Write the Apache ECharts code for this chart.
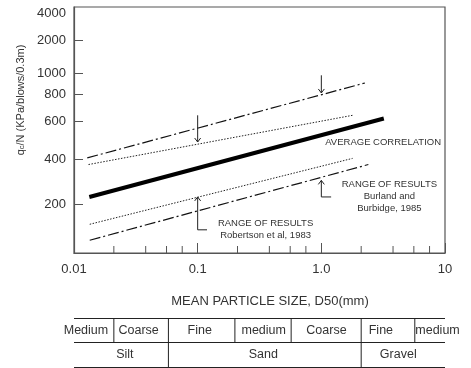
<!DOCTYPE html>
<html>
<head>
<meta charset="utf-8">
<script src="https://cdn.jsdelivr.net/npm/echarts@6/dist/echarts.min.js"></script>
<style>
    html, body { margin: 0; padding: 0; background: #fff; }
    #chart { width: 471px; height: 368px; }
</style>
</head>
<body>
<div id="chart"></div>
<script>
// 数据
const xTickLabels = ['0.01', '0.1', '1.0', '10'];
const xMinorTicks = [0.021, 0.038, 0.056, 0.075, 0.21, 0.38, 0.56, 0.75, 2.1, 3.8, 5.6, 7.5];

// y 轴刻度 (原图的刻度间距不均匀, yTickLevel 是每个刻度在轴上的位置)
const yTickKpa = [200, 400, 600, 800, 1000, 2000, 4000];
const yTickLevel = [48.7, 93.7, 131.7, 158.4, 179.4, 212.7, 240];
const yNoTick = [4000];

// 五条直线: 起点/终点 (D50 mm, qc/N kPa)
const lineNames = ['Burland upper', 'Robertson upper', 'Average correlation', 'Robertson lower', 'Burland lower'];
const lineX0 = [0.0128, 0.0131, 0.0133, 0.0134, 0.0134];
const lineX1 = [2.25, 1.79, 3.2, 1.79, 2.4];
const lineY0 = [406, 369, 224, 147, 115];
const lineY1 = [905, 640, 618, 404, 369];

// 箭头
const arrowX = [1.0, 0.1, 0.1, 1.0];
const arrowTail = [982, 640, 135, 224];
const arrowHead = [814, 481, 224, 289];
const arrowLegX = [1.0, 0.1, 0.119, 1.2];

// 注释文字
const noteText = ['AVERAGE CORRELATION', 'RANGE OF RESULTS\nBurland and\nBurbidge, 1985', 'RANGE OF RESULTS\nRobertson et al, 1983'];
const noteX = [3.16, 3.55, 0.354];
const noteY = [478, 225, 136.5];

// 粒径分类表
const subNames = ['Medium', 'Coarse', 'Fine', 'medium', 'Coarse', 'Fine', 'medium'];
const subCenters = [0.0125, 0.0333, 0.104, 0.342, 1.1, 3.03, 8.7];
const mainNames = ['Silt', 'Sand', 'Gravel'];
const mainCenters = [0.0258, 0.339, 4.19];
const subBounds = [0.021, 0.2, 0.57, 5.7];
const mainBounds = [0.058, 2.1];

const FONT = '"Liberation Sans", Arial, sans-serif';
const TEXT = '#333';
const FRAME = '#555';

// kPa -> 轴上位置 (按刻度分段对数插值)
function toLevel(kpa) {
    let i = 0;
    while (i < yTickKpa.length - 2 && kpa > yTickKpa[i + 1]) i++;
    const f = Math.log(kpa / yTickKpa[i]) / Math.log(yTickKpa[i + 1] / yTickKpa[i]);
    return yTickLevel[i] + f * (yTickLevel[i + 1] - yTickLevel[i]);
}

function yLabel(level) {
    for (let i = 0; i < yTickLevel.length; i++) {
        if (Math.abs(yTickLevel[i] - level) < 0.01) return String(yTickKpa[i]);
    }
    return '';
}

const lineStyles = [
    { color: '#111', width: 1.2, type: [11, 3, 2, 3] },
    { color: '#222', width: 1, type: [1.5, 1.5] },
    { color: '#000', width: 4, type: 'solid' },
    { color: '#222', width: 1, type: [1.5, 1.5] },
    { color: '#111', width: 1.2, type: [11, 3, 2, 3] }
];

const lineSeries = lineNames.map((name, i) => ({
    name: name,
    type: 'line',
    xAxisIndex: 0,
    yAxisIndex: 0,
    showSymbol: false,
    silent: true,
    lineStyle: lineStyles[i],
    data: [[lineX0[i], toLevel(lineY0[i])], [lineX1[i], toLevel(lineY1[i])]]
}));

const chart = echarts.init(document.getElementById('chart'));

const option = {
    animation: false,
    grid: [
        { left: 74, top: 7, width: 371, height: 246, show: true, borderColor: FRAME, borderWidth: 1.2 },
        { left: 74, top: 318, width: 371, height: 49 }
    ],
    xAxis: [
        {
            type: 'log',
            logBase: 10,
            min: 0.01,
            max: 10,
            gridIndex: 0,
            name: 'MEAN PARTICLE SIZE, D50(mm)',
            nameLocation: 'middle',
            nameGap: 42,
            nameTextStyle: { fontFamily: FONT, fontSize: 13, color: TEXT, padding: [0, 0, 0, 21] },
            axisLine: { lineStyle: { color: FRAME, width: 1.2 } },
            axisTick: { inside: true, length: 10, lineStyle: { color: FRAME } },
            axisLabel: {
                margin: 10,
                fontFamily: FONT,
                fontSize: 13,
                color: TEXT,
                showMinLabel: true,
                showMaxLabel: true,
                formatter: v => xTickLabels[Math.round(Math.log10(v)) + 2]
            },
            splitLine: { show: false },
            minorTick: { show: false }
        },
        {
            type: 'log',
            logBase: 10,
            min: 0.01,
            max: 10,
            gridIndex: 1,
            show: false
        }
    ],
    yAxis: [
        {
            type: 'value',
            min: 0,
            max: 246,
            gridIndex: 0,
            name: '{q|q}{sub|c}{q|/N (KPa/blows/0.3m)}',
            nameLocation: 'middle',
            nameRotate: 90,
            nameGap: 47,
            nameTextStyle: {
                padding: [0, 0, 0, 60],
                rich: {
                    q: { fontFamily: FONT, fontSize: 11, color: TEXT },
                    sub: { fontFamily: FONT, fontSize: 7.5, color: TEXT, verticalAlign: 'bottom' }
                }
            },
            axisLine: { lineStyle: { color: FRAME, width: 1.2 } },
            axisTick: {
                inside: true,
                length: 9,
                lineStyle: { color: FRAME },
                customValues: yTickKpa.filter(v => yNoTick.indexOf(v) < 0).map(toLevel)
            },
            axisLabel: {
                margin: 8,
                fontFamily: FONT,
                fontSize: 13,
                color: TEXT,
                customValues: yTickKpa.map(toLevel),
                formatter: v => yLabel(v)
            },
            splitLine: { show: false }
        },
        {
            type: 'value',
            min: 0,
            max: 2,
            interval: 1,
            gridIndex: 1,
            axisLine: { show: false },
            axisTick: { show: false },
            axisLabel: { show: false },
            splitLine: { show: true, lineStyle: { color: '#222', width: 1 } }
        }
    ],
    series: lineSeries.concat([
        // x 轴次刻度
        {
            type: 'custom',
            xAxisIndex: 0,
            yAxisIndex: 0,
            silent: true,
            data: xMinorTicks.map(v => [v, 0]),
            renderItem: function (params, api) {
                const p = api.coord([api.value(0), 0]);
                return {
                    type: 'line',
                    shape: { x1: p[0], y1: p[1], x2: p[0], y2: p[1] - 7 },
                    style: { stroke: FRAME, lineWidth: 1 }
                };
            }
        },
        // 箭头
        {
            type: 'custom',
            xAxisIndex: 0,
            yAxisIndex: 0,
            silent: true,
            data: arrowX.map((x, i) => [x, toLevel(arrowTail[i]), toLevel(arrowHead[i]), arrowLegX[i]]),
            renderItem: function (params, api) {
                const tail = api.coord([api.value(0), api.value(1)]);
                const head = api.coord([api.value(0), api.value(2)]);
                const leg = api.coord([api.value(3), api.value(1)]);
                const dir = head[1] > tail[1] ? 1 : -1;
                const stroke = { stroke: '#222', lineWidth: 1, fill: null };
                const children = [
                    { type: 'polyline', shape: { points: [[leg[0], leg[1]], [tail[0], tail[1]], [head[0], head[1]]] }, style: stroke },
                    { type: 'polyline', shape: { points: [[head[0] - 3, head[1] - dir * 4], [head[0], head[1]], [head[0] + 3, head[1] - dir * 4]] }, style: stroke }
                ];
                return { type: 'group', children: children };
            }
        },
        // 注释
        {
            type: 'custom',
            xAxisIndex: 0,
            yAxisIndex: 0,
            silent: true,
            data: noteX.map((x, i) => [x, toLevel(noteY[i])]),
            renderItem: function (params, api) {
                const p = api.coord([api.value(0), api.value(1)]);
                return {
                    type: 'text',
                    style: {
                        text: noteText[params.dataIndex],
                        x: p[0],
                        y: p[1],
                        align: 'center',
                        verticalAlign: 'middle',
                        fontFamily: FONT,
                        fontSize: 9.5,
                        lineHeight: 12,
                        fill: TEXT
                    }
                };
            }
        },
        // 表格竖线
        {
            type: 'custom',
            xAxisIndex: 1,
            yAxisIndex: 1,
            silent: true,
            data: subBounds.map(v => [v, 1]).concat(mainBounds.map(v => [v, 0])),
            renderItem: function (params, api) {
                const b = api.coord([api.value(0), api.value(1)]);
                const t = api.coord([api.value(0), 2]);
                return {
                    type: 'line',
                    shape: { x1: b[0], y1: b[1], x2: t[0], y2: t[1] },
                    style: { stroke: '#222', lineWidth: 1 }
                };
            }
        },
        // 表格文字
        {
            type: 'custom',
            xAxisIndex: 1,
            yAxisIndex: 1,
            silent: true,
            data: subCenters.map(v => [v, 1.5]).concat(mainCenters.map(v => [v, 0.5])),
            renderItem: function (params, api) {
                const p = api.coord([api.value(0), api.value(1)]);
                const names = subNames.concat(mainNames);
                return {
                    type: 'text',
                    style: {
                        text: names[params.dataIndex],
                        x: p[0],
                        y: p[1],
                        align: 'center',
                        verticalAlign: 'middle',
                        fontFamily: FONT,
                        fontSize: 12.5,
                        fill: TEXT
                    }
                };
            }
        }
    ])
};

chart.setOption(option);
window.addEventListener('resize', () => chart.resize());
</script>
</body>
</html>
